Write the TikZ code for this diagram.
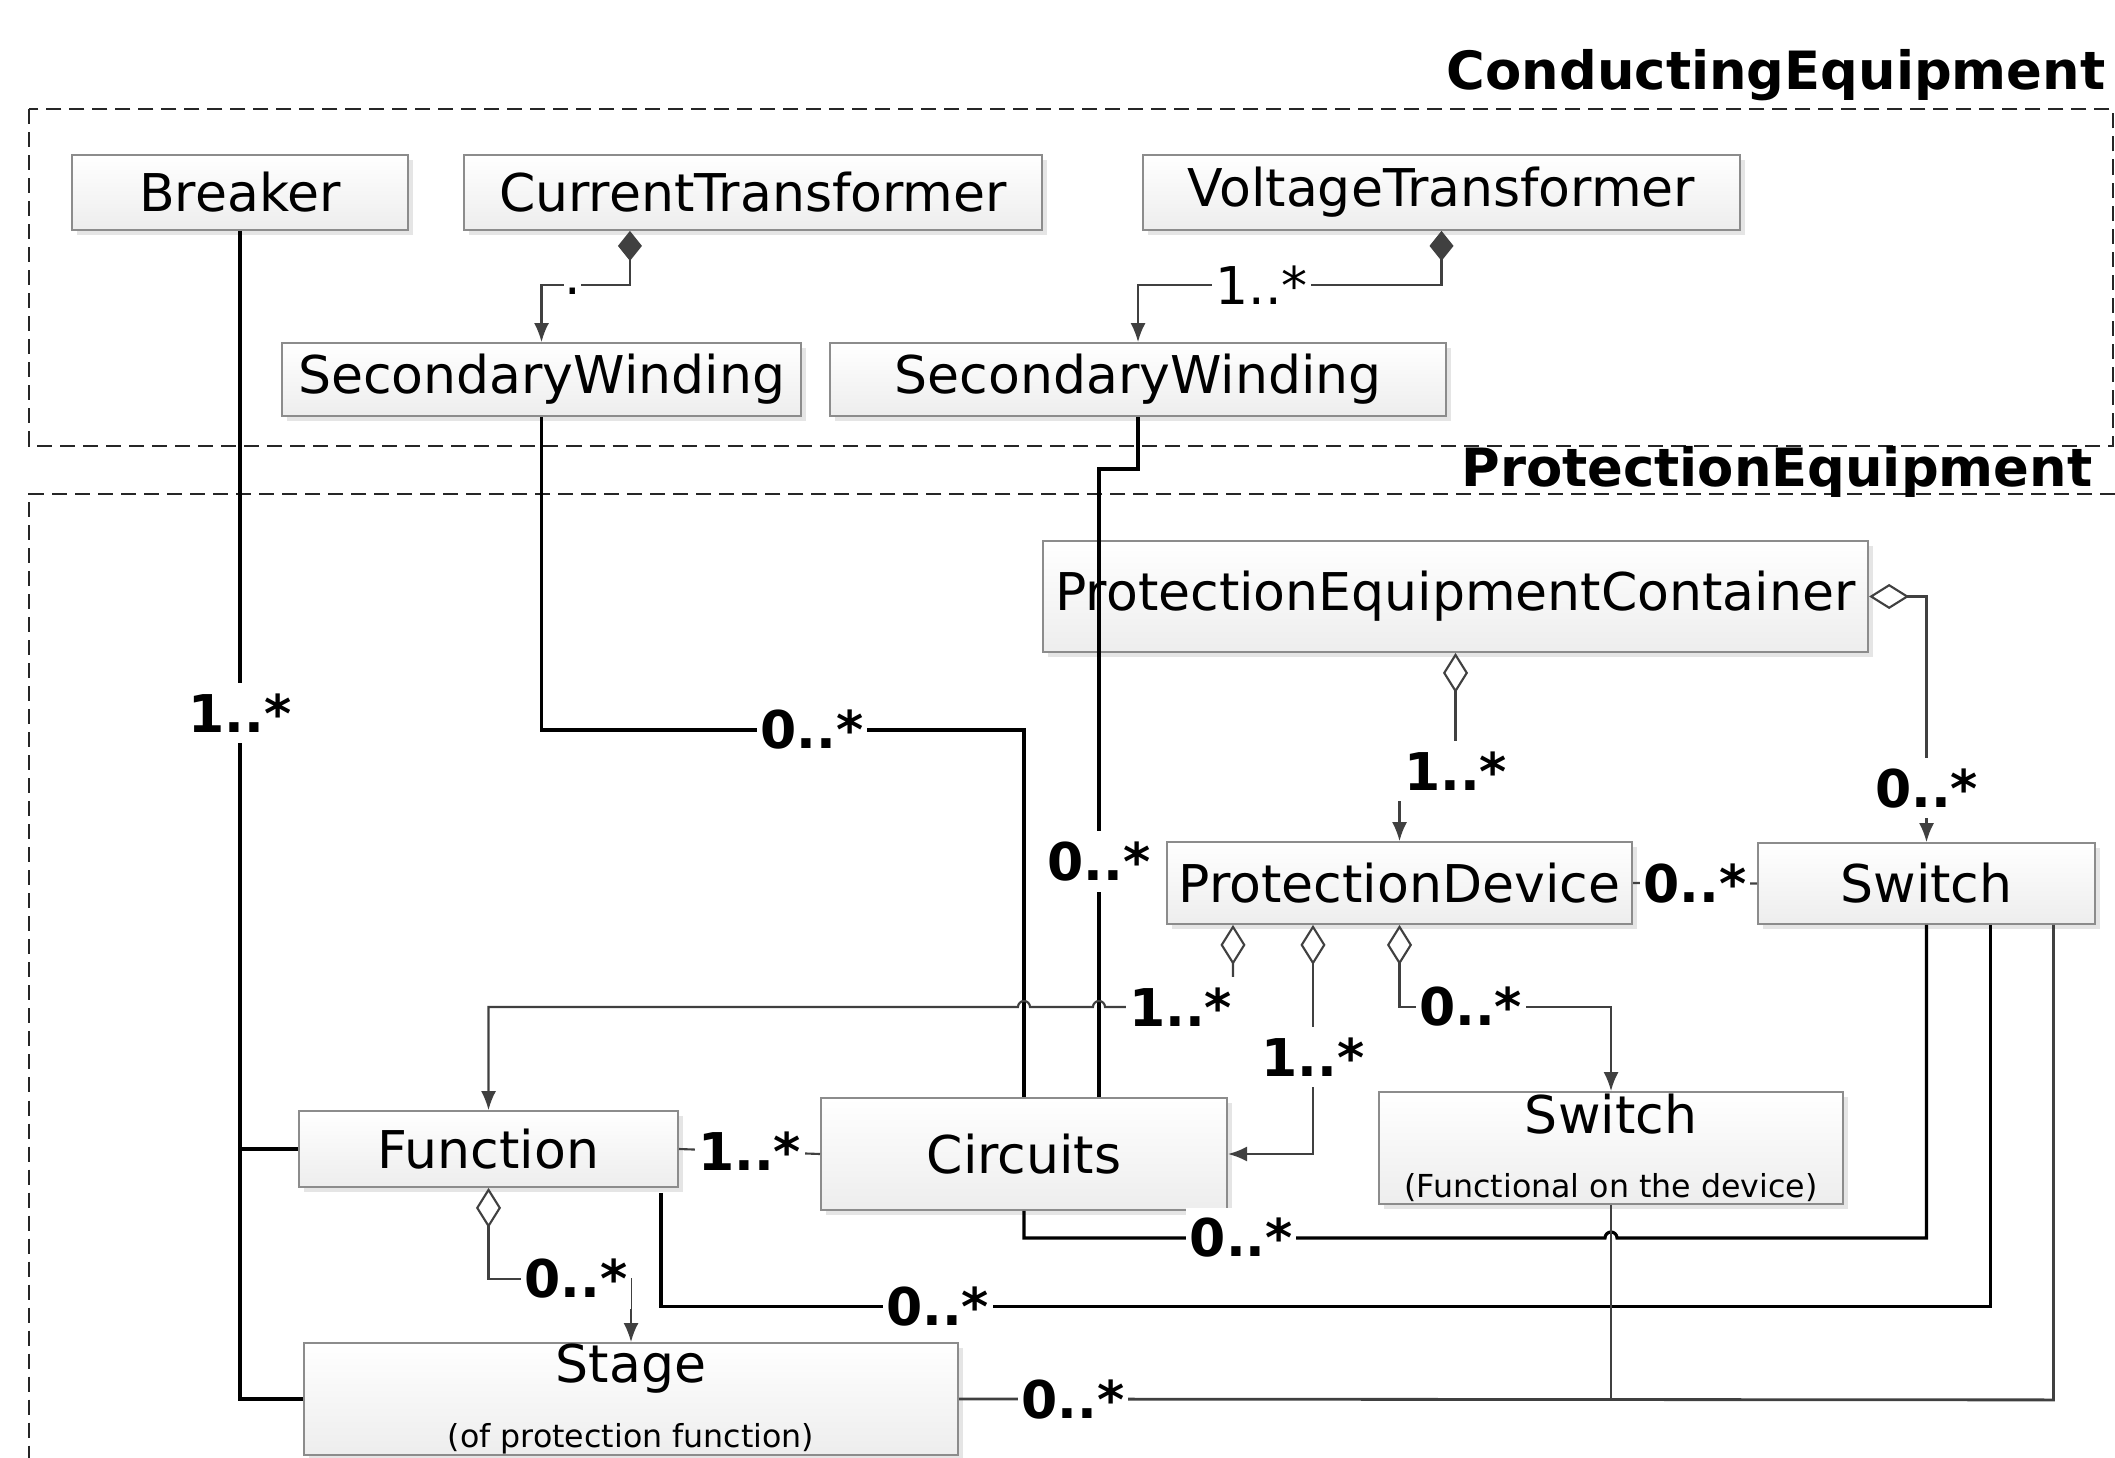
\documentclass[tikz,border=0pt]{standalone}
\usepackage{fontspec}
\setmainfont{DejaVu Sans}
\usetikzlibrary{arrows.meta,calc,shadows}
\definecolor{lg}{HTML}{404040}
\definecolor{bx}{HTML}{8C8C8C}
\newcommand{\smalltxt}{\fontsize{9}{11}\selectfont}
\begin{document}
\begin{tikzpicture}[x=0.01cm,y=-0.01cm,
  cls/.style={draw=bx, line width=0.5pt, top color=white, bottom color=black!7,
     general shadow={fill=black!10, shadow xshift=0.05cm, shadow yshift=-0.05cm},
     font=\fontsize{14.8}{17}\selectfont, inner sep=0pt},
  mult/.style={fill=white, inner xsep=1pt, inner ysep=3pt, font=\fontsize{14.8}{17}\selectfont\bfseries},
  multn/.style={fill=white, inner xsep=1pt, inner ysep=2pt, font=\fontsize{14.8}{17}\selectfont},
  pkgtitle/.style={inner sep=0pt, font=\fontsize{15}{18}\selectfont\bfseries},
  pkg/.style={draw=black!85, line width=0.7pt, dash pattern=on 0.15cm off 0.08cm},
  assoc/.style={draw=black, line width=0.9pt},
  gline/.style={draw=lg, line width=0.6pt},
  comp/.style={gline, {Diamond[length=0.30cm,width=0.24cm,fill=lg]}-{Latex[length=0.19cm,width=0.15cm]}},
  aggr/.style={gline, {Diamond[length=0.40cm,width=0.25cm,fill=white]}-{Latex[length=0.19cm,width=0.15cm]}}
]
\useasboundingbox (0,0) rectangle (2115,1458);

% packages
\draw[pkg] (29,109) rectangle (2113,446);
\draw[pkg] (2115,494) -- (29,494) -- (29,1458);
\node[pkgtitle, anchor=base east] (tce) at (2106,90) {ConductingEquipment};
\node[pkgtitle, anchor=base east] (tpe) at (2093,486) {ProtectionEquipment};

% classes
\node[cls, minimum width=3.36cm, minimum height=0.75cm] (brk) at (240,192.5) {Breaker};
\node[cls, minimum width=5.78cm, minimum height=0.75cm] (ct) at (753,192.5) {CurrentTransformer};
\node[cls, minimum width=5.97cm, minimum height=0.75cm] (vt) at (1441.5,192.5) {VoltageTransformer};
\node[cls, minimum width=5.19cm, minimum height=0.73cm] (sw1) at (541.5,379.5) {SecondaryWinding};
\node[cls, minimum width=6.16cm, minimum height=0.73cm] (sw2) at (1138,379.5) {SecondaryWinding};
\node[cls, minimum width=8.25cm, minimum height=1.11cm] (pec) at (1455.5,596.5) {ProtectionEquipmentContainer};
\node[cls, minimum width=4.65cm, minimum height=0.82cm] (pd) at (1399.5,883) {ProtectionDevice};
\node[cls, minimum width=3.37cm, minimum height=0.81cm] (sw) at (1926.5,883.5) {Switch};
\node[cls, minimum width=3.79cm, minimum height=0.76cm] (fn) at (488.5,1149) {Function};
\node[cls, minimum width=4.06cm, minimum height=1.12cm] (cir) at (1024,1154) {Circuits};
\node[cls, minimum width=4.64cm, minimum height=1.12cm, align=center] (swf) at (1611,1148) {Switch\\[1.2pt]{\smalltxt (Functional on the device)}};
\node[cls, minimum width=6.54cm, minimum height=1.12cm, align=center] (stage) at (631,1399) {Stage\\[1.7pt]{\smalltxt (of protection function)}};

% helper coordinates
\coordinate (c2) at ($(cir.north)+(75,0)$);
\coordinate (d1) at ($(pd.south west)+(67,0)$);
\coordinate (d2) at ($(pd.south west)+(147,0)$);
\coordinate (h1) at (c2 |- 0,1007);
\coordinate (h2) at (cir.north |- 0,1007);
\coordinate (h3) at (swf.south |- 0,1238);
\coordinate (f1) at ($(fn.south east)+(-18,5)$);

% compositions
\draw[comp] ($(ct.south west)+(167,0)$) |- node[multn, pos=0.826, text height=1ex, text depth=0pt, inner sep=0pt, minimum width=0.17cm]{.} ($(sw1.north)+(0,-57)$) -- (sw1.north);
\draw[comp] (vt.south) |- node[multn,pos=0.796]{1..*} ($(sw2.north)+(0,-57)$) -- (sw2.north);

% associations
\draw[assoc] (brk.south) -- node[mult,pos=0.413]{1..*} (brk.south |- stage.west) -- (stage.west);
\draw[assoc] (brk.south |- fn.west) -- (fn.west);
\draw[assoc] (sw1.south) -- (sw1.south |- 0,730) -- node[mult,pos=0.56]{0..*} (cir.north |- 0,730) -- (cir.north);
\draw[assoc] (sw2.south) |- (c2 |- 0,469) -- node[mult,pos=0.625]{0..*} (c2);

% aggregations
\draw[aggr] (pec.south) -- ($(pec.south)+(0,118)$) -| node[mult,inner xsep=4pt,pos=0]{1..*} (pd.north);
\draw[aggr] (pec.east) -| node[mult,pos=0.89]{0..*} (sw.north);
\draw[gline] (pd.east) -- node[mult]{0..*} (sw.west);
\draw[aggr] (d1) -- (d1 |- h1) -- node[mult,pos=0.41]{1..*} ([xshift=0.06cm]h1) arc[start angle=0,end angle=180,radius=0.06cm] -- ([xshift=0.06cm]h2) arc[start angle=0,end angle=180,radius=0.06cm] -- (fn.north |- h1) -- (fn.north);
\draw[aggr] (d2) |- node[mult,pos=0.289]{1..*} (cir.east);
\draw[aggr] (pd.south) -- (pd.south |- h1) -| node[mult,pos=0.168]{0..*} (swf.north);
\draw[gline] (fn.east) -- node[mult]{1..*} (cir.west);
\draw[aggr] (fn.south) -- ($(fn.south)+(0,91)$) -| node[mult,pos=0.306]{0..*} (stage.north);

% switch associations
\draw[assoc] (cir.south) |- node[mult,pos=0.687]{0..*} ([xshift=-0.06cm]h3) arc[start angle=180,end angle=0,radius=0.06cm] -| (sw.south);
\draw[assoc] (f1) |- node[mult,pos=0.604]{0..*} ($(sw.south)+(64,382)$) -- ($(sw.south)+(64,0)$);
\draw[gline, line width=0.8pt] (stage.east) -- node[mult,pos=0.104]{0..*} ($(sw.south)+(127,475)$) -- ($(sw.south)+(127,0)$);
\draw[gline] (swf.south) -- (swf.south |- stage.east);
\end{tikzpicture}
\end{document}
